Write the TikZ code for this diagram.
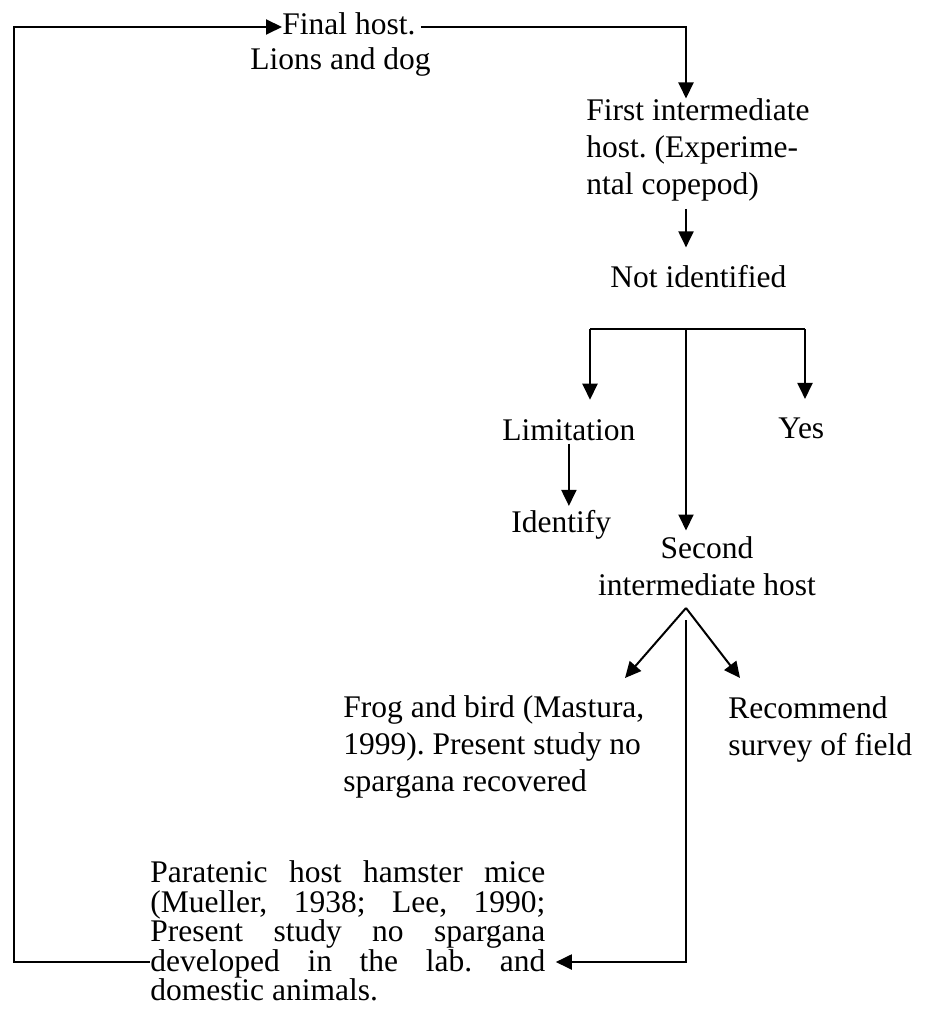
\documentclass[tikz,border=0pt]{standalone}
\usepackage{fontspec}
\setmainfont{Liberation Serif}
\usetikzlibrary{positioning, arrows.meta}
\tolerance=10000
\frenchspacing

\begin{document}
\begin{tikzpicture}[
    x=0.5pt, y=-0.5pt,
    stage/.style={inner sep=0pt, font=\fontsize{15.75}{18.5}\selectfont},
    arr/.style={-{Triangle[length=8pt, width=7.5pt]}, line width=1pt},
    link/.style={line width=1pt},
]
\useasboundingbox (0,0) rectangle (926,1021);

% Hosts and outcomes
\node[stage, anchor=base west] (final) at (282,35) {Final host.};
\node[stage, anchor=base west] (lions) at (250,70) {Lions and dog};
\node[stage, anchor=north west, align=left] (first) at (586,98.5) {First intermediate\\host. (Experime-\\ntal copepod)};
\node[stage, anchor=base west] (notid) at (610,288) {Not identified};
\node[stage, anchor=base west] (limit) at (502,440) {Limitation};
\node[stage, anchor=base west] (yes) at (778,438) {Yes};
\node[stage, anchor=base west] (ident) at (511,532) {Identify};
\node[stage, anchor=north, align=center] (second) at (707,536.5) {Second\\intermediate host};
\node[stage, anchor=north west, align=left] (frog) at (343,695) {Frog and bird (Mastura,\\1999). Present study no\\spargana recovered};
\node[stage, anchor=north west, align=left] (recom) at (728,696.5) {Recommend\\survey of field};
\node[stage, anchor=north west, text width=197.5pt, align=justify, font=\fontsize{15.75}{14.75}\selectfont] (para) at (150,860.5) {Paratenic host hamster mice\linebreak (Mueller, 1938; Lee, 1990;\linebreak Present study no spargana\linebreak developed in the lab. and\linebreak domestic animals.};

% Turning points
\coordinate (corner) at (14,27);
\coordinate (trunk) at (686,27);
\coordinate (barL) at (590,329);
\coordinate (bar) at (686,329);
\coordinate (barR) at (805,329);
\coordinate (apex) at (686,608);
\coordinate (frogtip) at (625,678);
\coordinate (recomtip) at (740,678);
\coordinate (drop) at (686,620);
\coordinate (bend) at (686,962);

% Cycle
\draw[arr] (para.west |- bend) -- (corner |- bend) -- (corner) -- (final.west |- corner);
\draw[arr, shorten <=2.5pt] (final.east |- corner) -- (trunk) -- (trunk |- first.north);
\draw[arr, shorten <=3.5pt, shorten >=9pt] (trunk |- first.south) -- (trunk |- notid.north);

% Branches
\draw[link] (barL) -- (barR);
\draw[arr, shorten >=9.5pt] (barL) -- (barL |- limit.north);
\draw[arr, shorten >=9pt] (barR) -- (barR |- yes.north);
\draw[arr, shorten >=3pt] (bar) -- (bar |- second.north);
\draw[arr, shorten <=1.5pt, shorten >=1.75pt] (limit.south) -- (limit.south |- ident.north);
\draw[arr] (apex) -- (frogtip);
\draw[arr] (apex) -- (recomtip);
\draw[arr, shorten >=5pt] (drop) -- (bend) -- (bend -| para.east);
\end{tikzpicture}
\end{document}
